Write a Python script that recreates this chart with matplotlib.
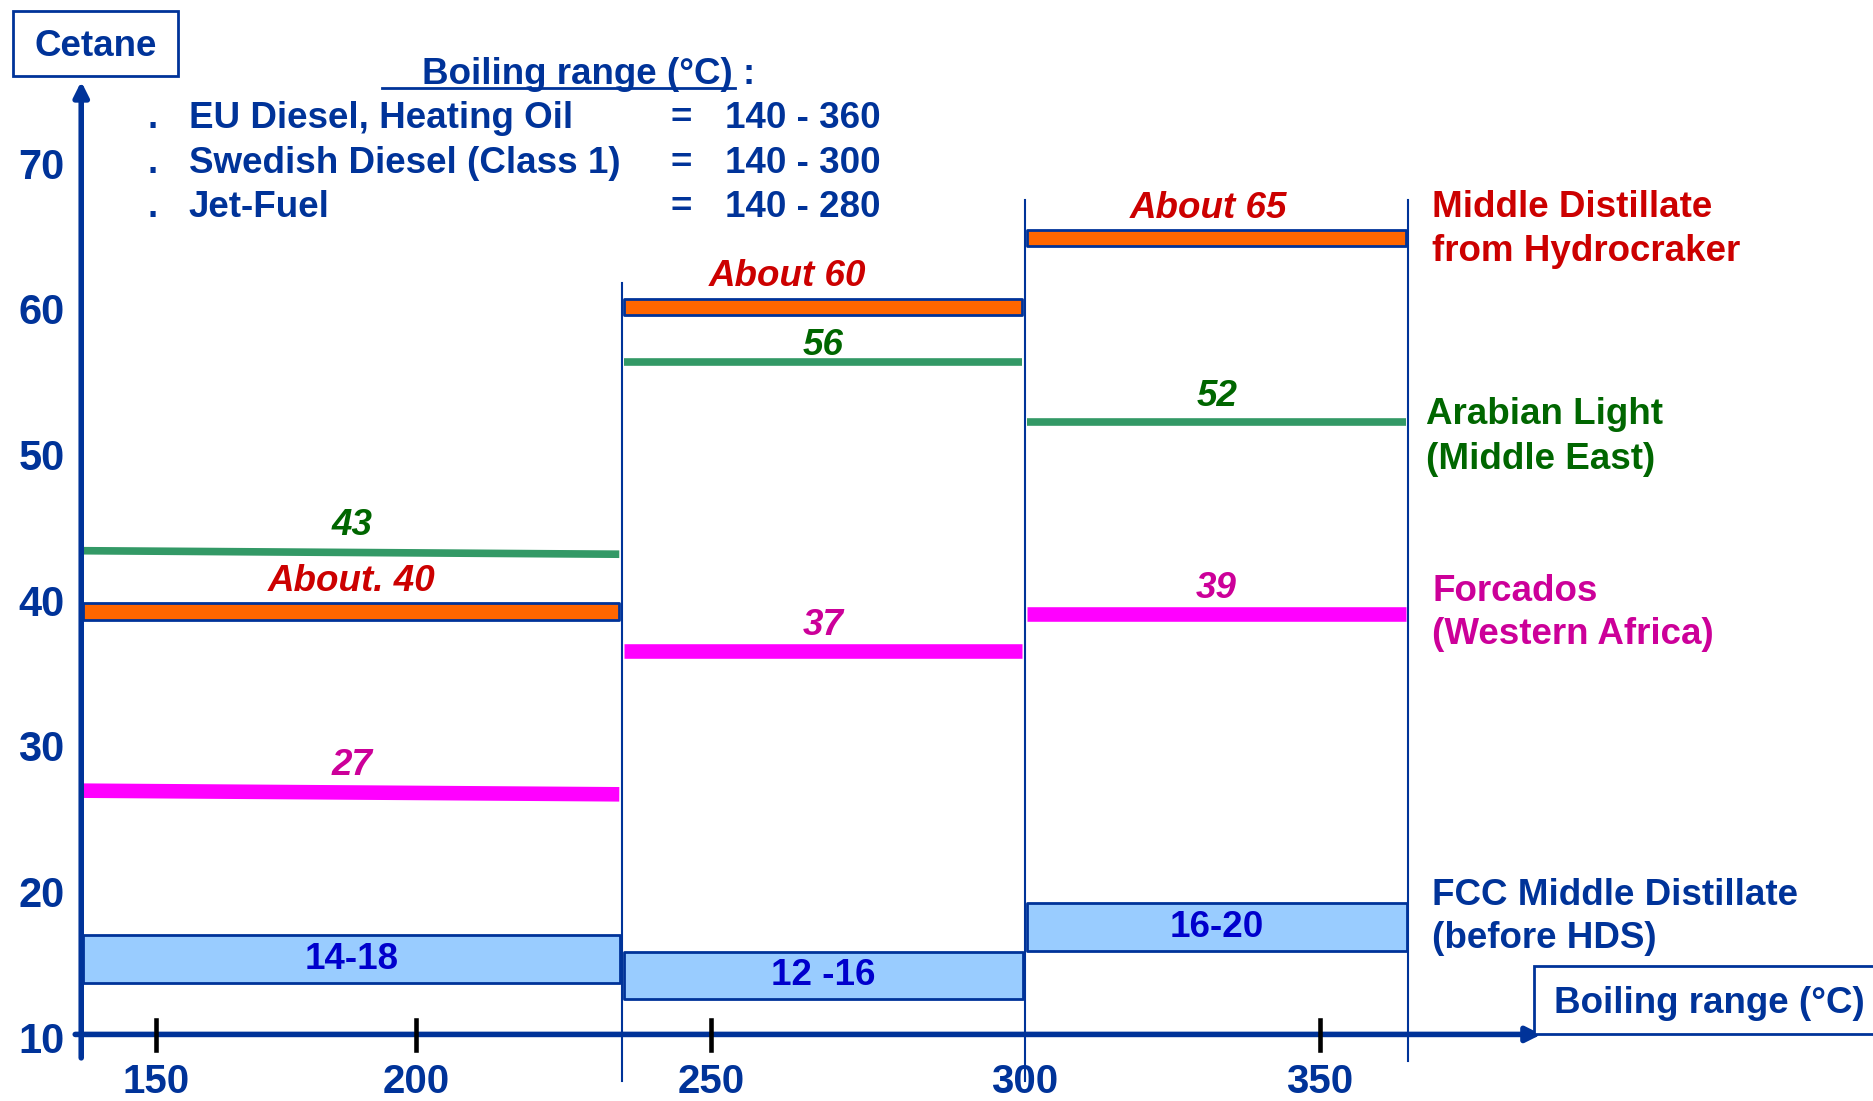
import numpy as np
import matplotlib.pyplot as plt
from matplotlib.patches import Rectangle

plt.rcParams['font.family'] = ['Liberation Sans', 'DejaVu Sans']

# colours
navy = '#003399'
red = '#cc0000'
orange = '#ff6600'
green_line = '#339966'
green_txt = '#006600'
pink_line = '#ff00ff'
pink_txt = '#cc0099'
light_blue = '#99ccff'
box_txt = '#0000cc'

# data
seg_edges = [140, 235, 300, 365]

hc_low = [38.45, 59.4, 64.1]          # Middle distillate from hydrocraker
hc_high = [39.6, 60.5, 65.2]
hc_labels = ["About. 40", "About 60", "About 65"]

arab_start = [43.2, 56.16, 52.06]     # Arabian Light
arab_end = [42.96, 56.16, 52.06]
arab_labels = ["43", "56", "52"]

forc_start = [26.73, 36.32, 38.86]    # Forcados
forc_end = [26.48, 36.32, 38.86]
forc_labels = ["27", "37", "39"]

fcc_low = [13.53, 12.46, 15.74]       # FCC middle distillate
fcc_high = [16.8, 15.66, 19.0]
fcc_labels = ["14-18", "12 -16", "16-20"]

y_ticks = [10, 20, 30, 40, 50, 60, 70]
x_ticks = [150, 200, 250, 300, 350]

spec_names = ["EU Diesel, Heating Oil", "Swedish Diesel (Class 1)", "Jet-Fuel"]
spec_ranges = ["140 - 360", "140 - 300", "140 - 280"]

# the temperature axis of the slide is not evenly spaced -> piecewise scale
_tv = [0, 140, 150, 200, 250, 300, 350, 600]
_tp = [-618, 68, 131, 348, 595, 858, 1105, 2340]


def fwd(v):
    return np.interp(v, _tv, _tp)


def inv(p):
    return np.interp(p, _tp, _tv)


fig = plt.figure(figsize=(18.73, 11.01), dpi=100)
ax = fig.add_axes([0, 0, 1, 1])
ax.set_xscale('function', functions=(fwd, inv))
ax.set_xlim(inv(0), inv(1568))
ax.set_ylim(5.43, 81.0)
ax.axis('off')


def fx(p):
    return p / 1568


def fy(p):
    return 1 - p / 922


FS = 26.5

# axes with arrows
ax.annotate('', xy=(140, 75.6), xytext=(140, 8.2),
            arrowprops=dict(arrowstyle='-|>', lw=4, color=navy, mutation_scale=22))
ax.annotate('', xy=(388, 10), xytext=(138.5, 10),
            arrowprops=dict(arrowstyle='-|>', lw=4, color=navy, mutation_scale=22))

# segment separators
ax.plot([seg_edges[1], seg_edges[1]], [6.8, 61.6], color=navy, lw=1.5)
ax.plot([seg_edges[2], seg_edges[2]], [6.8, 67.3], color=navy, lw=1.5)
ax.plot([seg_edges[3], seg_edges[3]], [8.2, 67.3], color=navy, lw=1.5)

# tick marks
for t in x_ticks:
    if t != 300:
        ax.plot([t, t], [8.9, 11.0], color='black', lw=3.3, zorder=5)
    ax.text(t, 6.75, str(t), ha='center', va='center', fontsize=29,
            fontweight='bold', color=navy)
for t in y_ticks:
    ax.text(133.2, t - 0.5, str(t), ha='center', va='center', fontsize=30,
            fontweight='bold', color=navy)

hc_dx = [0, -26, -6]
for i in range(3):
    x0, x1 = seg_edges[i], seg_edges[i + 1]
    xm = float(inv((fwd(x0) + fwd(x1)) / 2))
    # FCC boxes
    ax.fill_between([x0 + 0.3, x1 - 0.3], fcc_low[i], fcc_high[i],
                    facecolor=light_blue, edgecolor=navy, lw=2)
    ax.text(xm, (fcc_low[i] + fcc_high[i]) / 2, fcc_labels[i], ha='center', va='center',
            fontsize=FS, fontweight='bold', color=box_txt)
    # hydrocraker bands
    ax.fill_between([x0 + 0.3, x1 - 0.5], hc_low[i], hc_high[i],
                    facecolor=orange, edgecolor=navy, lw=2)
    ax.annotate(hc_labels[i], (xm, hc_high[i] + 1.5), xytext=(hc_dx[i], 0),
                textcoords='offset points', ha='center', va='center', fontsize=FS,
                fontweight='bold', style='italic', color=red)
    # Arabian Light
    ax.plot([x0 + 0.3, x1 - 0.5], [arab_start[i], arab_end[i]], color=green_line, lw=5.5,
            solid_capstyle='butt')
    dy = 1.1 if i == 1 else 1.7
    ax.text(xm, arab_start[i] + dy, arab_labels[i], ha='center', va='center', fontsize=FS,
            fontweight='bold', style='italic', color=green_txt)
    # Forcados
    ax.plot([x0 + 0.3, x1 - 0.5], [forc_start[i], forc_end[i]], color=pink_line, lw=10.5,
            solid_capstyle='butt')
    ax.text(xm, forc_start[i] + 1.75, forc_labels[i], ha='center', va='center', fontsize=FS,
            fontweight='bold', style='italic', color=pink_txt)

# right side labels
fig.text(fx(1199), fy(192), "Middle Distillate\nfrom Hydrocraker", ha='left', va='center',
         fontsize=FS, fontweight='bold', color=red, linespacing=1.34)
fig.text(fx(1194), fy(366), "Arabian Light\n(Middle East)", ha='left', va='center',
         fontsize=FS, fontweight='bold', color=green_txt, linespacing=1.34)
fig.text(fx(1199), fy(513), "Forcados\n(Western Africa)", ha='left', va='center',
         fontsize=FS, fontweight='bold', color=pink_txt, linespacing=1.3)
fig.text(fx(1199), fy(768), "FCC Middle Distillate\n(before HDS)", ha='left', va='center',
         fontsize=FS, fontweight='bold', color=navy, linespacing=1.3)

# axis title boxes
fig.patches.append(Rectangle((fx(11), fy(64)), fx(138), 55 / 922, transform=fig.transFigure,
                             facecolor='white', edgecolor=navy, lw=2))
fig.text(fx(80), fy(39), "Cetane", ha='center', va='center', fontsize=FS,
         fontweight='bold', color=navy)
fig.patches.append(Rectangle((fx(1284), fy(866)), fx(300), 57 / 922, transform=fig.transFigure,
                             facecolor='white', edgecolor=navy, lw=2, zorder=10))
fig.text(fx(1301), fy(840), "Boiling range (°C)", ha='left', va='center', fontsize=FS,
         fontweight='bold', color=navy, zorder=11)

# header block
fig.text(fx(353), fy(62), "Boiling range (°C) :", ha='left', va='center', fontsize=FS,
         fontweight='bold', color=navy)
fig.lines.append(plt.Line2D([fx(320), fx(615)], [fy(74), fy(74)], transform=fig.transFigure,
                            color=navy, lw=2))
for k, (name, rng) in enumerate(zip(spec_names, spec_ranges)):
    yy = fy(99 + 37.5 * k)
    fig.text(fx(128), yy, ".", ha='center', va='center', fontsize=FS, fontweight='bold', color=navy)
    fig.text(fx(158), yy, name, ha='left', va='center', fontsize=FS, fontweight='bold', color=navy)
    fig.text(fx(570), yy, "=", ha='center', va='center', fontsize=FS, fontweight='bold', color=navy)
    fig.text(fx(607), yy, rng, ha='left', va='center', fontsize=FS, fontweight='bold', color=navy)

fig.savefig("out.png", dpi=100)
